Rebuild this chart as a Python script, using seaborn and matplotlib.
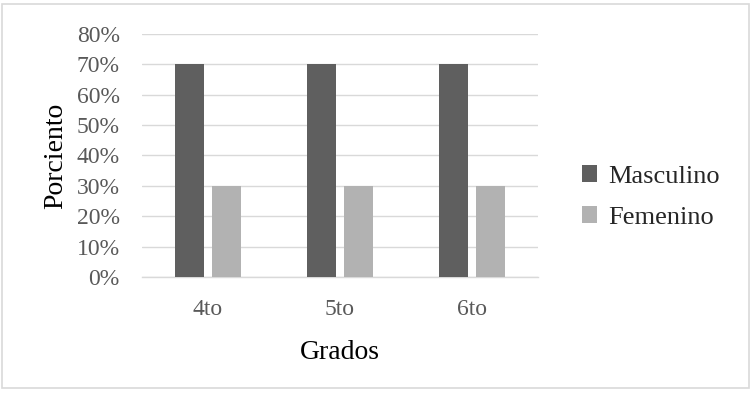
import pandas as pd
import matplotlib
matplotlib.use("Agg")
import matplotlib.pyplot as plt
from matplotlib.patches import Rectangle
from matplotlib.ticker import PercentFormatter
import seaborn as sns

grados = ["4to", "5to", "6to"]
masculino = [0.70, 0.70, 0.70]
femenino = [0.30, 0.30, 0.30]
series = ["Masculino", "Femenino"]
colores = ["#5f5f5f", "#b2b2b2"]

df = pd.DataFrame({
    "Grados": grados * 2,
    "Porciento": masculino + femenino,
    "Sexo": [series[0]] * 3 + [series[1]] * 3,
})

sns.set_style("white")
plt.rcParams["font.family"] = ["Liberation Serif", "DejaVu Serif"]

fig = plt.figure(figsize=(7.54, 3.93), dpi=100)
ax = fig.add_axes([0.1883, 0.2952, 0.5252, 0.6183])

sns.barplot(data=df, x="Grados", y="Porciento", hue="Sexo", hue_order=series,
            palette=colores, width=0.56, gap=0.21, saturation=1, linewidth=0,
            ax=ax, zorder=3)

ax.set_ylim(0, 0.8)
ax.set_xlim(-0.5, 2.5)
ax.set_yticks([i / 10 for i in range(9)])
ax.yaxis.set_major_formatter(PercentFormatter(1.0, decimals=0))
ax.grid(axis="y", color="#d9d9d9", linewidth=1, zorder=0)
ax.set_axisbelow(True)
for s in ["top", "right", "left"]:
    ax.spines[s].set_visible(False)
ax.spines["bottom"].set_color("#d9d9d9")
ax.spines["bottom"].set_linewidth(1)

ax.tick_params(axis="y", length=0, labelsize=17, labelcolor="#595959", pad=16)
ax.tick_params(axis="x", which="major", length=0, labelsize=17, labelcolor="#595959", pad=16)
ax.set_xticks([-0.5, 0.5, 1.5, 2.5], minor=True)
ax.tick_params(axis="x", which="minor", length=6, color="#d9d9d9", width=1)

ax.set_xlabel("Grados", fontsize=20, color="black", labelpad=14)
ax.set_ylabel("Porciento", fontsize=20, color="black", labelpad=6)

leg = ax.legend(loc="center left", bbox_to_anchor=(1.05, 0.33), frameon=False,
                fontsize=19, handlelength=0.6, handleheight=0.6, handletextpad=0.4,
                labelspacing=0.7)

fig.patches.append(Rectangle((0.003, 0.012), 0.991, 0.978, transform=fig.transFigure,
                             fill=False, edgecolor="#d9d9d9", linewidth=1.2))

fig.savefig("out.png", dpi=100)
